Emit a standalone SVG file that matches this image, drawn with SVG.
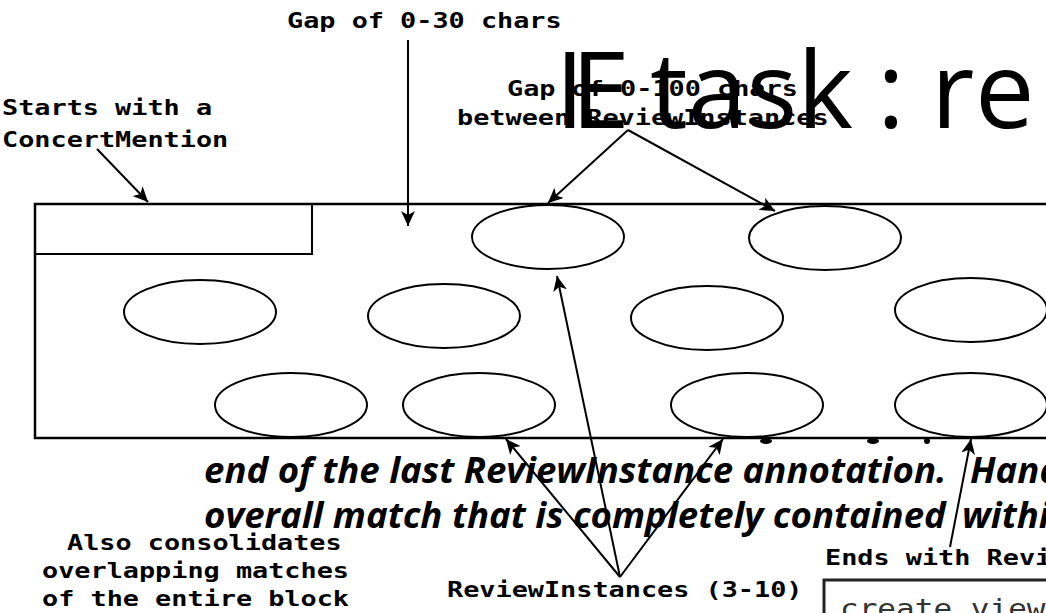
<svg xmlns="http://www.w3.org/2000/svg" width="1046" height="613" viewBox="0 0 1046 613">
<defs>
<style>
.mono{font-family:"DejaVu Sans Mono","Liberation Mono",monospace;font-weight:bold;font-size:20.5px;fill:#000}
.shape{fill:none;stroke:#000;stroke-width:2}
.box{fill:#fff;stroke:#000;stroke-width:2.5}
.conn line{stroke:#000;stroke-width:2}
.ital{font-family:"Open Sans","Noto Sans",sans-serif;font-weight:bold;font-style:italic;font-size:36.6px;fill:#000}
.title{font-family:"Open Sans","Noto Sans",sans-serif;font-size:106px;fill:#000}
</style>
<marker id="ah" markerUnits="userSpaceOnUse" markerWidth="16" markerHeight="14" refX="15" refY="7" orient="auto" viewBox="0 0 16 14">
<path d="M0,0 L15,7 L0,14 L4,7 z" fill="#000"/>
</marker>
</defs>
<rect width="1046" height="613" fill="#fff"/>

<g id="block">
<rect class="box" x="35" y="204" width="1030" height="234"/>
</g>
<g id="concert-mention"><rect class="shape" x="35" y="204" width="277" height="50"/></g>
<g id="review-instances" class="shape">
<ellipse id="ri1" cx="548" cy="237" rx="76" ry="32"/>
<ellipse id="ri2" cx="825" cy="238" rx="76" ry="32"/>
<ellipse id="ri3" cx="200" cy="312" rx="76" ry="32"/>
<ellipse id="ri4" cx="444" cy="316" rx="76" ry="32"/>
<ellipse id="ri5" cx="707" cy="318" rx="76" ry="32"/>
<ellipse id="ri6" cx="971" cy="310" rx="76" ry="32"/>
<ellipse id="ri7" cx="291" cy="405" rx="76" ry="32"/>
<ellipse id="ri8" cx="479" cy="405" rx="76" ry="32"/>
<ellipse id="ri9" cx="747" cy="405" rx="76" ry="32"/>
<ellipse id="ri10" cx="971" cy="405" rx="76" ry="32"/>
</g>
<g id="blobs" fill="#000">
<ellipse cx="766" cy="441" rx="6" ry="3"/>
<ellipse cx="873" cy="441" rx="6" ry="3"/>
<ellipse cx="927" cy="441" rx="3" ry="3"/>
</g>

<g id="title"><text class="title" y="128"><tspan x="555">I</tspan><tspan x="571">E</tspan> <tspan x="650">task</tspan> <tspan x="877">:</tspan> <tspan x="931">r</tspan><tspan x="975">e</tspan></text></g>

<g id="body-text">
<text class="ital" x="204" y="483"><tspan>end of the last ReviewInstance annotation.</tspan> <tspan x="970">Hand</tspan></text>
<text class="ital" x="204" y="528"><tspan>overall match that is completely contained</tspan> <tspan x="962">withi</tspan></text>
</g>

<g id="labels">
<text class="mono" transform="translate(287,28) scale(1.31,1)">Gap of 0-30 chars</text>
<text class="mono" transform="translate(2,115) scale(1.31,1)">Starts with a</text>
<text class="mono" transform="translate(2,147) scale(1.31,1)">ConcertMention</text>
<text class="mono" transform="translate(507,96) scale(1.31,1)">Gap of 0-100 chars</text>
<text class="mono" transform="translate(457,125) scale(1.31,1)">between ReviewInstances</text>
<text class="mono" transform="translate(67,550) scale(1.31,1)">Also consolidates</text>
<text class="mono" transform="translate(42,578) scale(1.31,1)">overlapping matches</text>
<text class="mono" transform="translate(42,606) scale(1.31,1)">of the entire block</text>
<text class="mono" transform="translate(447,597) scale(1.31,1)">ReviewInstances (3-10)</text>
<text class="mono" transform="translate(825,565) scale(1.31,1)">Ends with Revi</text>
</g>

<g id="code-box">
<rect x="824" y="580" width="240" height="60" fill="#fff" stroke="#222" stroke-width="3"/>
<text transform="translate(840,618) scale(1.15,1)" font-family="DejaVu Sans Mono, monospace" font-size="27" fill="#333">create view</text>
</g>

<g id="connectors" class="conn">
<line x1="97" y1="149" x2="148" y2="202" marker-end="url(#ah)"/>
<line x1="408" y1="40" x2="408" y2="226" marker-end="url(#ah)"/>
<line x1="628" y1="130" x2="548" y2="203" marker-end="url(#ah)"/>
<line x1="628" y1="130" x2="775" y2="211" marker-end="url(#ah)"/>
<line x1="620" y1="577" x2="557" y2="276" marker-end="url(#ah)"/>
<line x1="620" y1="577" x2="506" y2="439" marker-end="url(#ah)"/>
<line x1="620" y1="577" x2="723" y2="439" marker-end="url(#ah)"/>
<line x1="950" y1="547" x2="971" y2="439" marker-end="url(#ah)"/>
</g>
</svg>
